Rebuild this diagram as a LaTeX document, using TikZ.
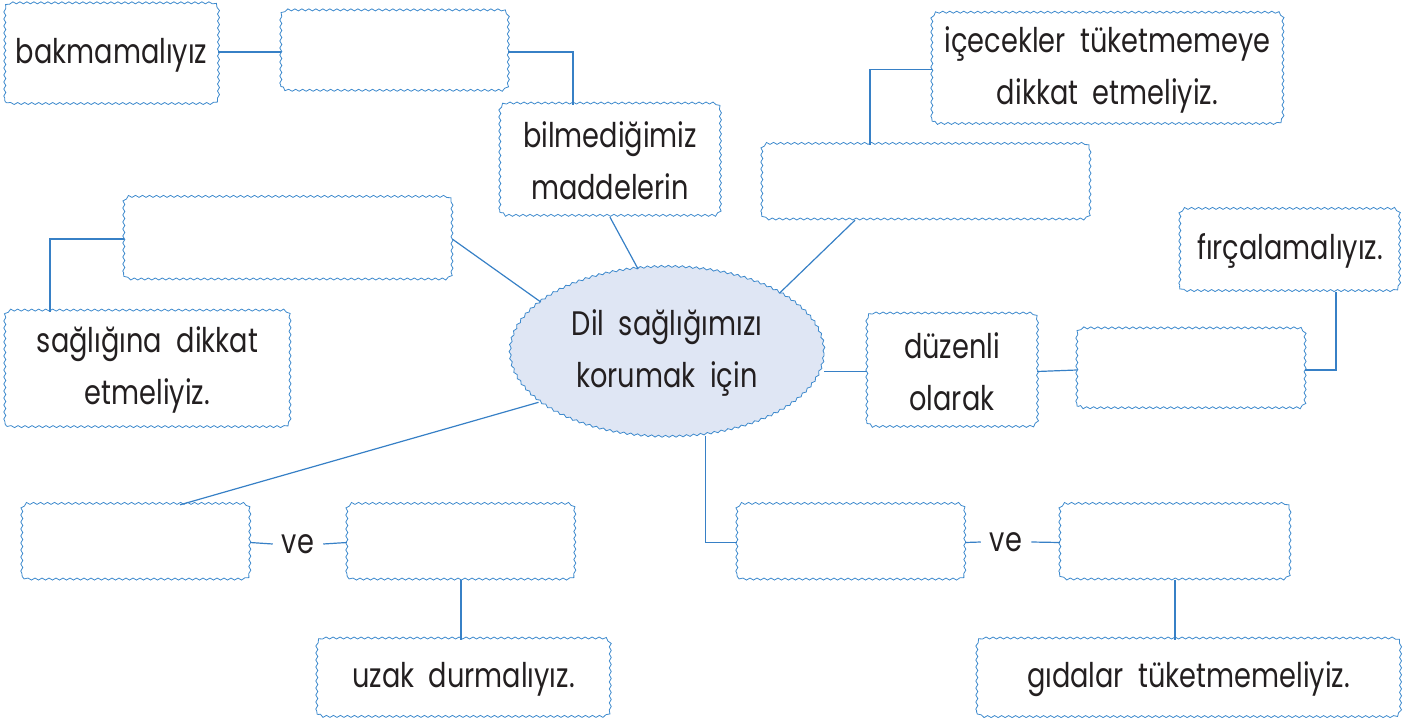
\documentclass[tikz,border=0pt]{standalone}
\usepackage{fontspec}
\setmainfont{Poppins}[FakeStretch=0.8, WordSpace=2]
\usetikzlibrary{decorations.pathmorphing,shapes.geometric}
\definecolor{wavyblue}{RGB}{62,138,205}
\definecolor{linkblue}{RGB}{55,128,198}
\definecolor{bubble}{RGB}{223,230,244}
\definecolor{ink}{RGB}{35,31,32}
\tikzset{
  wavy/.style={draw=wavyblue, line width=0.8pt,
    decoration={snake, segment length=7pt, amplitude=1pt}},
  card/.style={rectangle, inner sep=0pt, align=center, text=ink},
  link/.style={draw=linkblue, line width=1.2pt},
}
\begin{document}
\begin{tikzpicture}[x=1pt,y=-1pt,font=\fontsize{34}{52}\selectfont]
\useasboundingbox (0,0) rectangle (1410,725);
\node[card, minimum width=213, minimum height=100] at (111.5,55) (bak) {bakmamalıyız};
\node[card, minimum width=227, minimum height=80] at (394.5,52) (top) {};
\node[card, minimum width=220, minimum height=112] at (610,161) (bil) {bilmediğimiz\\maddelerin};
\node[wavy, decorate, ellipse, fill=bubble, minimum width=314, minimum height=170, inner sep=0pt, align=center, text=ink] at (667,353) (dil) {Dil sağlığımızı\\korumak için};
\node[card, minimum width=328, minimum height=75] at (926,182.5) (midr) {};
\node[card, minimum width=351, minimum height=111] at (1107.5,69.5) (icc) {içecekler tüketmemeye\\dikkat etmeliyiz.};
\node[card, minimum width=220, minimum height=82] at (1290,251) (fir) {fırçalamalıyız.};
\node[card, minimum width=228, minimum height=80] at (1191,370) (brush) {};
\node[card, minimum width=170, minimum height=113] at (952,371.5) (duz) {düzenli\\olarak};
\node[card, minimum width=328, minimum height=82] at (288,239) (midl) {};
\node[card, minimum width=285, minimum height=116] at (147.5,370) (sag) {sağlığına dikkat\\etmeliyiz.};
\node[card, minimum width=228, minimum height=75] at (136,542.5) (bl) {};
\node[text=ink, inner sep=9pt] at (298,544) (vel) {ve};
\node[card, minimum width=228, minimum height=75] at (461,542.5) (bm) {};
\node[card, minimum width=293, minimum height=78] at (463.5,679) (uzak) {uzak durmalıyız.};
\node[card, minimum width=228, minimum height=75] at (851,542.5) (br) {};
\node[text=ink, inner sep=9pt] at (1006,542) (ver) {ve};
\node[card, minimum width=230, minimum height=75] at (1175,542.5) (bfar) {};
\node[card, minimum width=423, minimum height=78] at (1188.5,679) (gid) {gıdalar tüketmemeliyiz.};
\foreach \n in {bak,top,bil,midr,icc,fir,brush,duz,midl,sag,bl,bm,uzak,br,bfar,gid}
  \draw[wavy] decorate {[rounded corners=7pt] (\n.south west) rectangle (\n.north east)};
\draw[link] (top.west) -- (top.west -| bak.east);
\draw[link] (top.east) -| ([xshift=-37pt]bil.north);
\draw[link] (bil.south) -- (dil.109);
\draw[link] ([xshift=-71pt]midr.south) -- (dil.28);
\draw[link] (icc.west) -| ([xshift=-56pt]midr.north);
\draw[link] (duz.west) -- (dil.east |- duz.west);
\draw[link] (duz.east) -- (brush.west);
\draw[link] (brush.east) -| ([xshift=46pt]fir.south);
\draw[link] (midl.east) -- (dil.158);
\draw[link] (midl.west) -| ([xshift=-97.5pt]sag.north);
\draw[link] (dil.201) -- ([xshift=44pt]bl.north);
\draw[link] (bl.east) -- (vel.west);
\draw[link] (vel.east) -- (bm.west);
\draw[link] (bm.south) -- (bm.south |- uzak.north);
\draw[link] (dil.-65) |- (br.west);
\draw[link] (br.east) -- (ver.west);
\draw[link] (ver.east) -- (bfar.west);
\draw[link] (bfar.south) -- (bfar.south |- gid.north);
\end{tikzpicture}
\end{document}
